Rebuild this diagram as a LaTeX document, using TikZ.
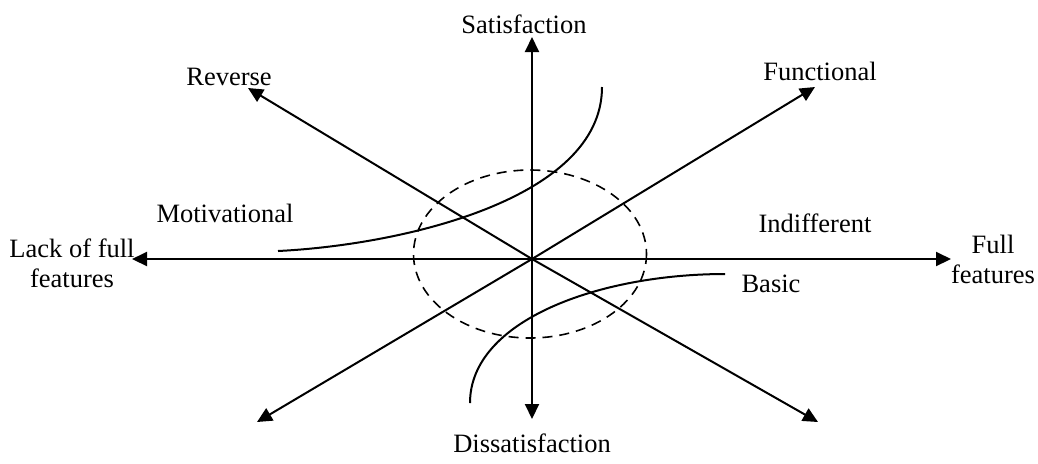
\documentclass[tikz,border=0pt]{standalone}
\usepackage{fontspec}
\setmainfont{Liberation Serif}
\usetikzlibrary{arrows.meta}
\begin{document}
\begin{tikzpicture}[x=0.5pt,y=-0.5pt,
  axis/.style={line width=1pt,{Triangle[length=7.5pt,width=7pt]}-{Triangle[length=7.5pt,width=7pt]}},
  curve/.style={line width=1pt},
  zone/.style={line width=0.8pt,dash pattern=on 5pt off 3.5pt},
  lbl/.style={inner sep=0pt,anchor=base,font=\fontsize{13.25pt}{15pt}\selectfont,align=center}]
\useasboundingbox (0,0) rectangle (1038,463);
% axis end points
\coordinate (O) at (532,259);
\coordinate (L) at (132,259);
\coordinate (R) at (951,259);
\coordinate (T) at (532,37);
\coordinate (B) at (532,419);
\coordinate (RV) at (248,88);
\coordinate (BR) at (818,422);
\coordinate (FN) at (815,87);
\coordinate (BL) at (257,422);
% axes
\draw[axis] (L) -- (R);
\draw[axis] (B) -- (T);
\draw[axis] (RV) -- (O) -- (BR);
\draw[axis] (BL) -- (O) -- (FN);
% dashed ellipse
\draw[zone] (530,254) ellipse [x radius=116.5, y radius=84];
% curves
\coordinate (m0) at (278,251);
\coordinate (m1) at (400,245);
\coordinate (m2) at (602,200);
\coordinate (m3) at (602,87);
\draw[curve] (m0) .. controls (m1) and (m2) .. (m3);
\coordinate (b0) at (470,403);
\coordinate (b1) at (470,320);
\coordinate (b2) at (600,274);
\coordinate (b3) at (725,274);
\draw[curve] (b0) .. controls (b1) and (b2) .. (b3);
% labels
\node[lbl] (sat) at (524,33) {Satisfaction};
\node[lbl] (dis) at (532,452) {Dissatisfaction};
\node[lbl] (rev) at (229,85) {Reverse};
\node[lbl] (fun) at (820,80) {Functional};
\node[lbl] (mot) at (225,222) {Motivational};
\node[lbl] (ind) at (815,232) {Indifferent};
\node[lbl] (bas) at (771,292) {Basic};
\node[lbl] (lack) at (72,287) {Lack of full\\features};
\node[lbl] (full) at (993,283) {Full\\features};
\end{tikzpicture}
\end{document}
